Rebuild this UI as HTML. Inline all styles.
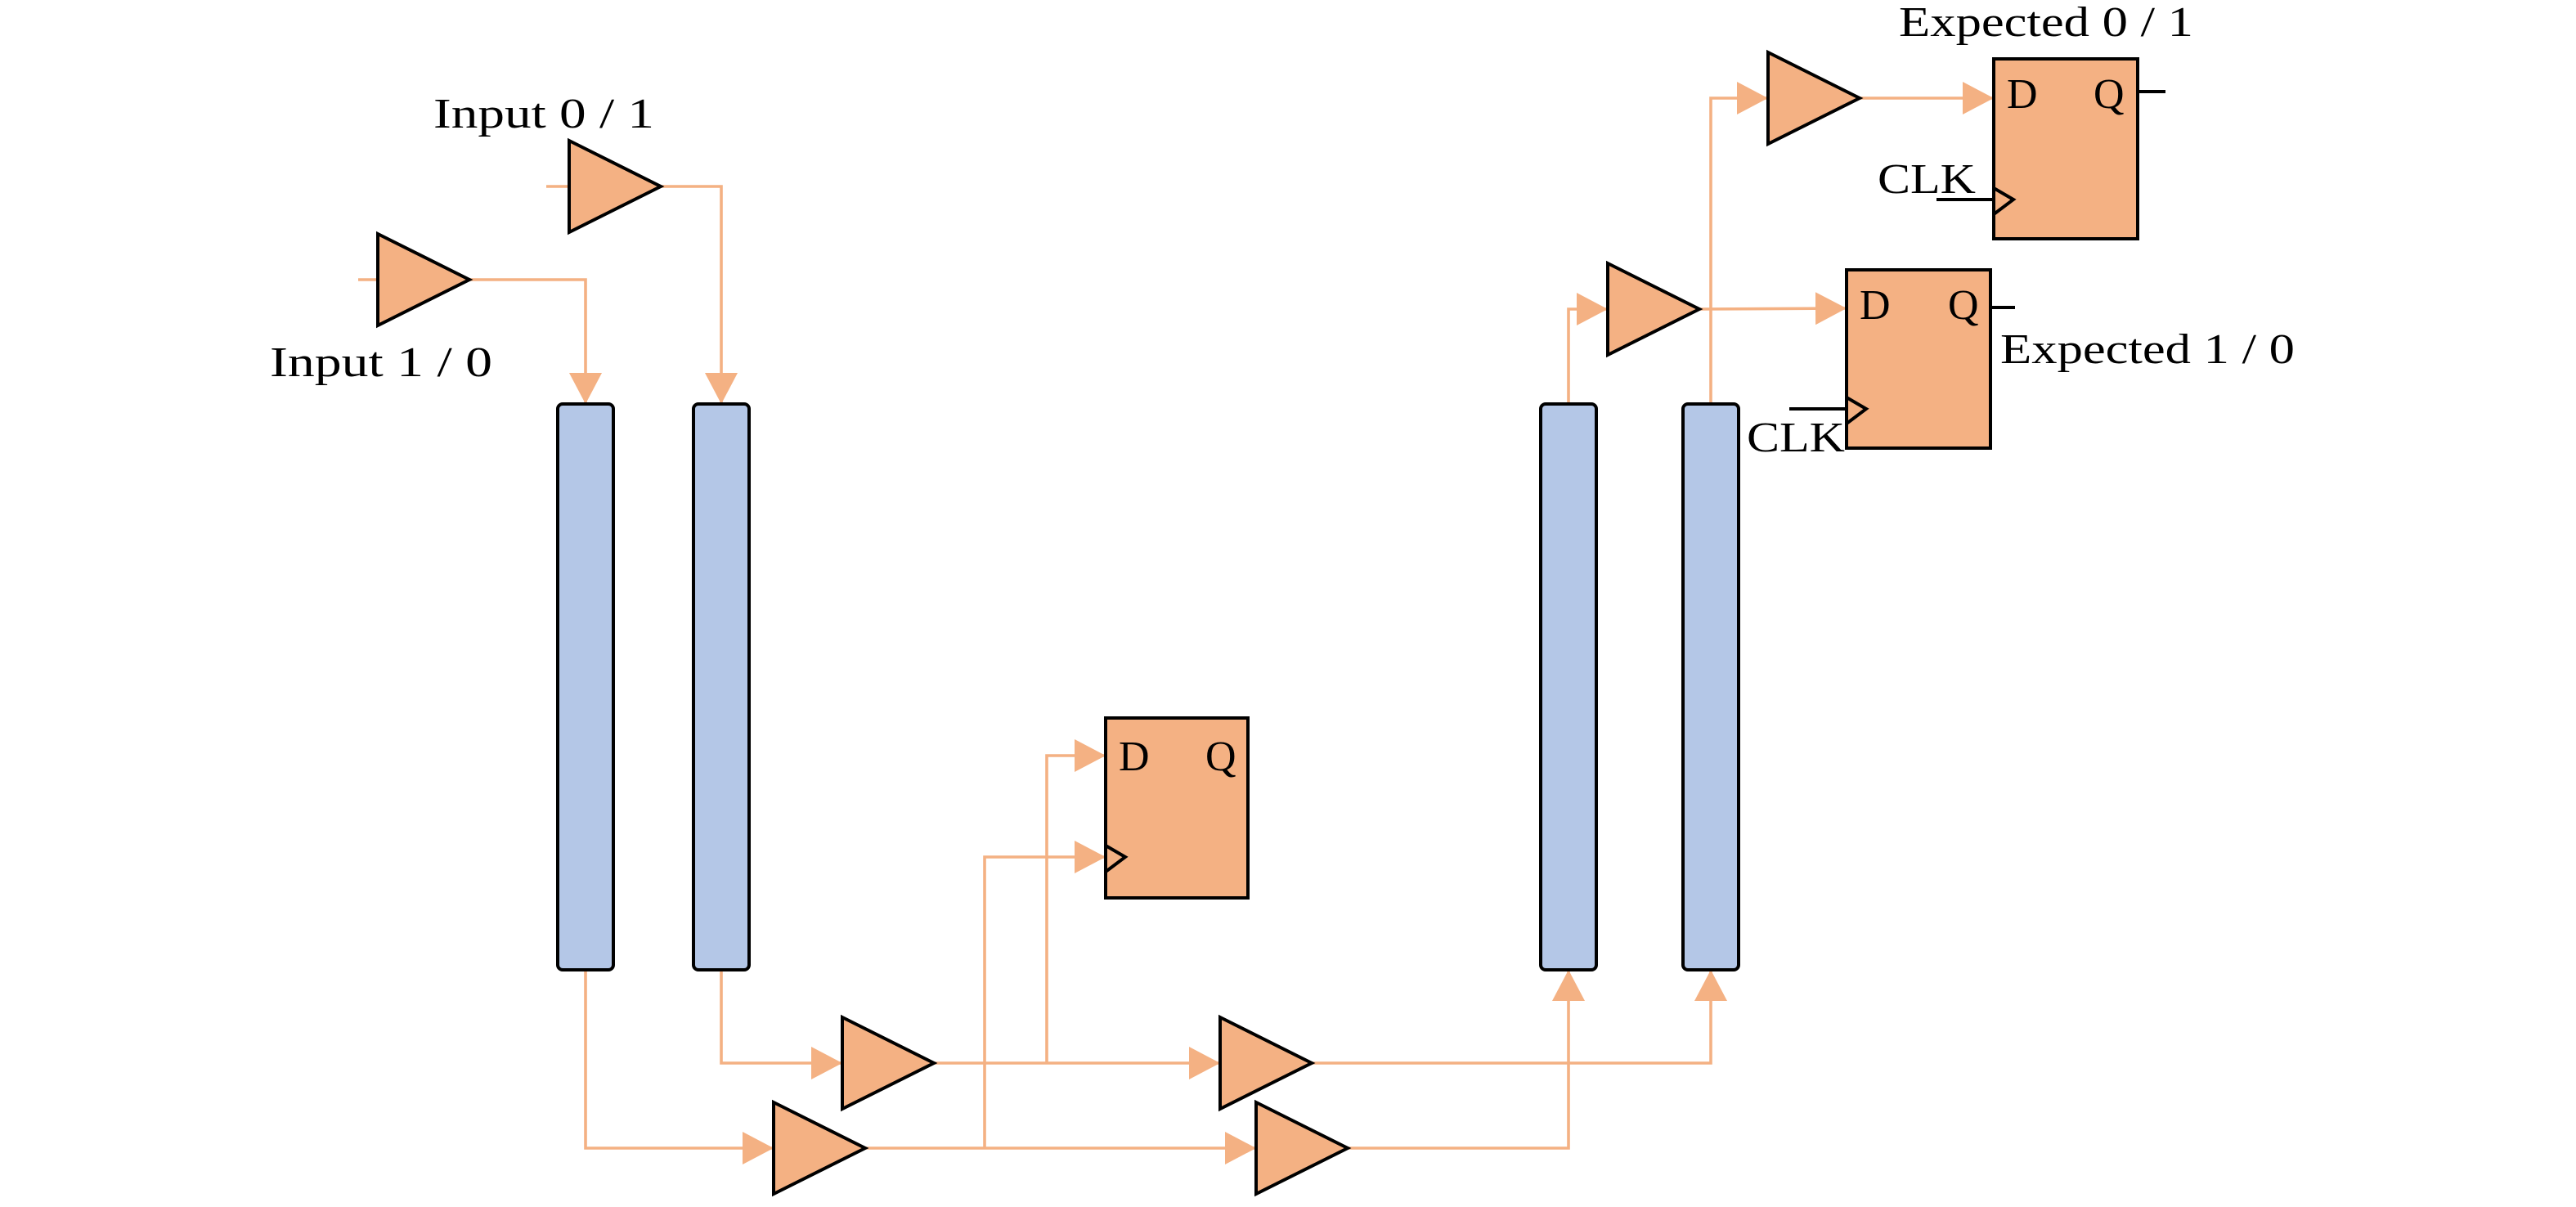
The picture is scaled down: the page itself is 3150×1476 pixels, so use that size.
<!DOCTYPE html>
<html><head><meta charset="utf-8"><style>
html,body{margin:0;padding:0;background:#fff;}
svg{display:block;}
text{font-family:"Liberation Serif",serif;font-size:26px;fill:#000;}
</style></head><body>
<svg width="3150" height="1476" viewBox="0 0 1575 738" xmlns="http://www.w3.org/2000/svg">
<defs>
<marker id="ah" markerWidth="19" markerHeight="20" refX="19" refY="10" orient="auto" markerUnits="userSpaceOnUse">
<path d="M0,0 L19,10 L0,20 Z" fill="#f4b183"/>
</marker>
</defs>
<g fill="none" stroke="#f4b183" stroke-width="1.8">
<line x1="219" y1="171" x2="231" y2="171"/>
<line x1="334" y1="114" x2="348" y2="114"/>
<path d="M287,171 H358 V247" marker-end="url(#ah)"/>
<path d="M404,114 H441 V247" marker-end="url(#ah)"/>
<path d="M358,593 V702 H473" marker-end="url(#ah)"/>
<path d="M441,593 V650 H515" marker-end="url(#ah)"/>
<path d="M571,650 H746" marker-end="url(#ah)"/>
<path d="M529,702 H768" marker-end="url(#ah)"/>
<path d="M640,650 V462 H676" marker-end="url(#ah)"/>
<path d="M602,702 V524 H676" marker-end="url(#ah)"/>
<path d="M802,650 H1046 V593" marker-end="url(#ah)"/>
<path d="M824,702 H959 V593" marker-end="url(#ah)"/>
<path d="M959,247 V189 H983" marker-end="url(#ah)"/>
<path d="M1039,189 L1129,188.5" marker-end="url(#ah)"/>
<path d="M1046,247 V60 H1081" marker-end="url(#ah)"/>
<path d="M1137,60 H1219" marker-end="url(#ah)"/>
</g>
<g fill="#b4c7e7" stroke="#000" stroke-width="2">
<rect x="341" y="247" width="34" height="346" rx="3"/>
<rect x="424" y="247" width="34" height="346" rx="3"/>
<rect x="942" y="247" width="34" height="346" rx="3"/>
<rect x="1029" y="247" width="34" height="346" rx="3"/>
</g>
<g fill="#f4b183" stroke="#000" stroke-width="2">
<path d="M231,143 L287,171 L231,199 Z"/>
<path d="M348,86 L404,114 L348,142 Z"/>
<path d="M515,622 L571,650 L515,678 Z"/>
<path d="M473,674 L529,702 L473,730 Z"/>
<path d="M746,622 L802,650 L746,678 Z"/>
<path d="M768,674 L824,702 L768,730 Z"/>
<path d="M983,161 L1039,189 L983,217 Z"/>
<path d="M1081,32 L1137,60 L1081,88 Z"/>
<rect x="676" y="439" width="87" height="110"/>
<rect x="1219" y="36" width="88" height="110"/>
<rect x="1129" y="165" width="88" height="109"/>
</g>
<g fill="none" stroke="#000" stroke-width="2">
<path d="M676,517 L688,524 L676,533"/>
<path d="M1219,115 L1231,122 L1219,131"/>
<line x1="1184" y1="122" x2="1219" y2="122"/>
<path d="M1129,243 L1141,250 L1129,259"/>
<line x1="1094" y1="250" x2="1129" y2="250"/>
<line x1="1307" y1="56" x2="1324" y2="56"/>
<line x1="1217" y1="188" x2="1232" y2="188"/>
</g>
<text x="265" y="78" textLength="135" lengthAdjust="spacingAndGlyphs">Input 0 / 1</text>
<text x="165" y="230" textLength="136" lengthAdjust="spacingAndGlyphs">Input 1 / 0</text>
<text x="684" y="471">D</text>
<text x="737" y="471">Q</text>
<text x="1227" y="66">D</text>
<text x="1280" y="66">Q</text>
<text x="1137" y="195">D</text>
<text x="1191" y="195">Q</text>
<text x="1148" y="118" textLength="60" lengthAdjust="spacingAndGlyphs">CLK</text>
<text x="1068" y="276" textLength="60" lengthAdjust="spacingAndGlyphs">CLK</text>
<text x="1161" y="22" textLength="180" lengthAdjust="spacingAndGlyphs">Expected 0 / 1</text>
<text x="1223" y="222" textLength="180" lengthAdjust="spacingAndGlyphs">Expected 1 / 0</text>
</svg>
</body></html>
